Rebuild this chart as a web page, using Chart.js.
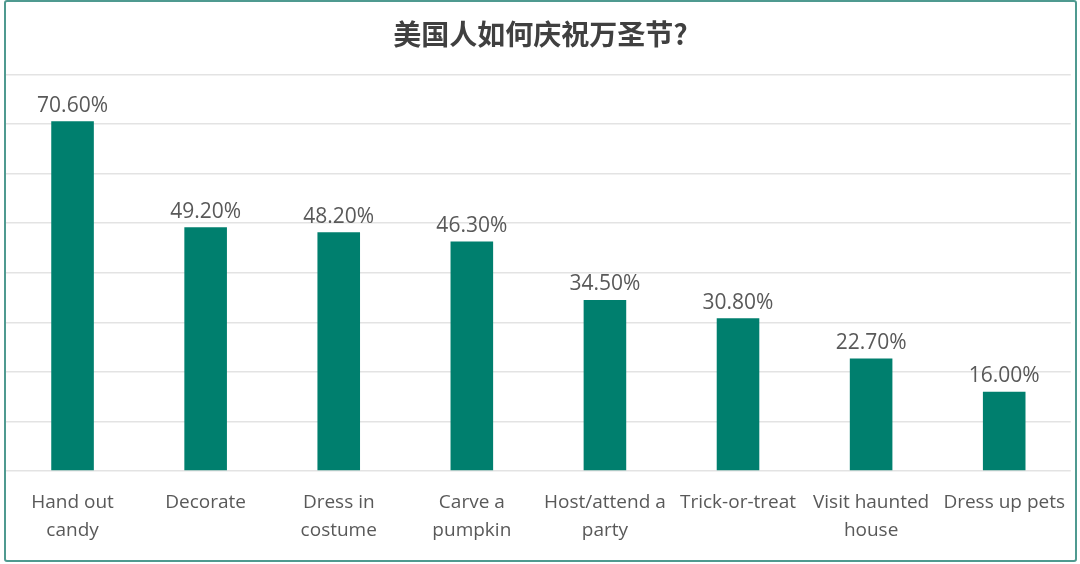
<!DOCTYPE html>
<html>
<head>
<meta charset="utf-8">
<script src="https://cdn.jsdelivr.net/npm/chart.js@4/dist/chart.umd.min.js"></script>
<style>
  html, body { margin: 0; padding: 0; background: #fff; }
  #wrap {
    position: absolute; left: 4px; top: 0; width: 1073px; height: 562px;
    border: 2px solid #4f9a90; border-radius: 3px; box-sizing: border-box;
  }
  #chartCanvas { display: block; }
</style>
</head>
<body>
<div id="wrap"><canvas id="chartCanvas"></canvas></div>
<script>
// data
const categories = [
  ["Hand out", "candy"],
  "Decorate",
  ["Dress in", "costume"],
  ["Carve a", "pumpkin"],
  ["Host/attend a", "party"],
  "Trick-or-treat",
  ["Visit haunted", "house"],
  "Dress up pets"
];
const shares = [70.6, 49.2, 48.2, 46.3, 34.5, 30.8, 22.7, 16.0];
const yMax = 80;
const yStep = 10;

// draws the percentage above each bar
const barLabels = {
  id: "barLabels",
  afterDatasetsDraw(chart) {
    const ctx = chart.ctx;
    const meta = chart.getDatasetMeta(0);
    ctx.save();
    ctx.font = "21px 'Open Sans', sans-serif";
    ctx.fillStyle = "#595959";
    ctx.textAlign = "center";
    ctx.textBaseline = "bottom";
    meta.data.forEach((bar, i) => {
      ctx.fillText(shares[i].toFixed(2) + "%", bar.x, bar.y - 5);
    });
    ctx.restore();
  }
};

const ctx = document.getElementById("chartCanvas").getContext("2d");
const wrap = document.getElementById("wrap");
ctx.canvas.width = wrap.clientWidth;
ctx.canvas.height = wrap.clientHeight;

new Chart(ctx, {
  type: "bar",
  data: {
    labels: categories,
    datasets: [{
      label: "Share",
      data: shares,
      backgroundColor: "#007f6e",
      categoryPercentage: 1,
      barPercentage: 0.32
    }]
  },
  options: {
    responsive: false,
    animation: false,
    layout: { padding: { left: 0, right: 0, top: 14, bottom: 6 } },
    plugins: {
      legend: { display: false },
      tooltip: { enabled: false },
      title: {
        display: true,
        text: "美国人如何庆祝万圣节?",
        color: "#404040",
        font: { family: "'Noto Sans CJK SC', sans-serif", size: 28, weight: "bold" },
        padding: { top: 2, bottom: 23 }
      }
    },
    scales: {
      x: {
        grid: { display: false },
        border: { display: false },
        ticks: {
          color: "#595959",
          font: { family: "'Open Sans', sans-serif", size: 19, lineHeight: 1.45 },
          maxRotation: 0,
          autoSkip: false,
          padding: 10
        }
      },
      y: {
        min: 0,
        max: yMax,
        ticks: { display: false, stepSize: yStep },
        grid: { color: "#e3e3e3", lineWidth: 1.5, drawTicks: false },
        border: { display: false }
      }
    }
  },
  plugins: [barLabels]
});
</script>
</body>
</html>
